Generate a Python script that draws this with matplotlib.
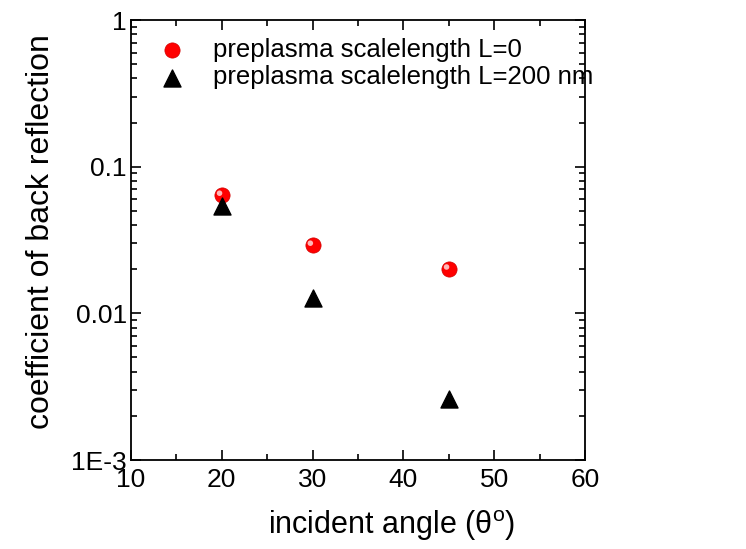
import matplotlib
matplotlib.use("Agg")
import matplotlib.pyplot as plt
from matplotlib.ticker import FixedLocator, NullFormatter, LogLocator

plt.rcParams['font.family'] = ['Liberation Sans', 'DejaVu Sans']

angles = [20, 30, 45]
refl_L0 = [0.064, 0.0292, 0.0201]
refl_L200 = [0.054, 0.0127, 0.0026]
label_L0 = "preplasma scalelength L=0"
label_L200 = "preplasma scalelength L=200 nm"
ytick_vals = [1e-3, 1e-2, 1e-1, 1]
ytick_labels = ["1E-3", "0.01", "0.1", "1"]
xticks = [10, 20, 30, 40, 50, 60]

fig = plt.figure(figsize=(7.46, 5.49), dpi=100)
ax = fig.add_axes([131/746, 1-460/549, (585-131)/746, (460-20)/549])

ax.scatter(angles, refl_L0, s=120, marker='o', color='#ff0000', edgecolors='#d00000',
           linewidths=0.5, zorder=3, label=label_L0)
ax.scatter([a - 0.25 for a in angles], [v * 1.03 for v in refl_L0], s=16, marker='o',
           color='#ffb8b8', edgecolors='none', zorder=4)
ax.scatter(angles, refl_L200, s=150, marker='^', color='black', zorder=3, label=label_L200)

ax.set_yscale('log')
ax.set_ylim(1e-3, 1)
ax.set_xlim(10, 60)
ax.set_xticks(xticks)
ax.xaxis.set_minor_locator(FixedLocator([15, 25, 35, 45, 55]))
ax.set_yticks(ytick_vals)
ax.set_yticklabels(ytick_labels)
ax.yaxis.set_minor_locator(LogLocator(base=10, subs=range(2, 10)))
ax.yaxis.set_minor_formatter(NullFormatter())

ax.tick_params(which='both', direction='in', top=True, right=True, labelsize=19, width=1.2)
ax.tick_params(which='major', length=7)
ax.tick_params(which='minor', length=4)
ax.tick_params(axis='x', which='major', pad=6)
ax.tick_params(axis='y', which='major', pad=3)
for s in ax.spines.values():
    s.set_linewidth(1.3)

ax.set_xlabel("incident angle (θ$^\\mathregular{o}$)", fontsize=22)
ax.xaxis.set_label_coords(0.575, -0.11)
ax.set_ylabel("coefficient of back reflection", fontsize=23)
ax.yaxis.set_label_coords(-0.165, 0.52)

leg = ax.legend(loc='upper left', frameon=False, fontsize=18.5, handletextpad=0.8,
                borderaxespad=0.2, labelspacing=0.15, bbox_to_anchor=(0.01, 0.995),
                handlelength=1.6)

fig.savefig("out.png", dpi=100)
